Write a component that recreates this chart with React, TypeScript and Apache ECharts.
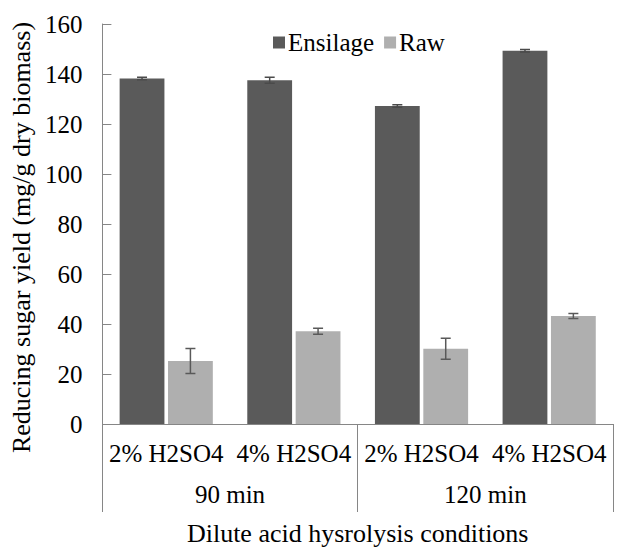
import React, { useEffect, useRef } from "react";
import * as echarts from "echarts";

const categories = ["2% H2SO4", "4% H2SO4", "2% H2SO4", "4% H2SO4"];
const groups = ["90 min", "120 min"];
const ensilage = [138.2, 137.5, 127.2, 149.3];
const ensilageErr = [0.5, 1.2, 0.5, 0.5];
const raw = [25.2, 37.1, 30.1, 43.2];
const rawErr = [5.0, 1.2, 4.2, 1.0];

const FONT = "Liberation Serif";
const CAT_GAP = 0.27;
const BAR_GAP = 0.08;

function errorSeries(name: string, values: number[], errs: number[], side: number, color: string) {
  return {
    type: "custom",
    name,
    xAxisIndex: 0,
    yAxisIndex: 0,
    silent: true,
    z: 10,
    data: values.map((v, i) => [i, v - errs[i], v + errs[i]]),
    renderItem: (params: any, api: any) => {
      const idx = api.value(0);
      const low = api.coord([idx, api.value(1)]);
      const high = api.coord([idx, api.value(2)]);
      const band = api.size([1, 0])[0];
      const barW = (band * (1 - CAT_GAP)) / (2 + BAR_GAP);
      const x = low[0] + side * (barW / 2 + (barW * BAR_GAP) / 2);
      const cap = 5;
      const style = { stroke: color, lineWidth: 1.5 };
      return {
        type: "group",
        children: [
          { type: "line", shape: { x1: x, y1: low[1], x2: x, y2: high[1] }, style },
          { type: "line", shape: { x1: x - cap, y1: low[1], x2: x + cap, y2: low[1] }, style },
          { type: "line", shape: { x1: x - cap, y1: high[1], x2: x + cap, y2: high[1] }, style },
        ],
      };
    },
  };
}

export default function App() {
  const ref = useRef<HTMLDivElement>(null);
  useEffect(() => {
    if (!ref.current) return;
    const chart = echarts.init(ref.current, null, { renderer: "svg" });
    const axisGray = "#868686";
    chart.setOption({
      animation: false,
      backgroundColor: "#ffffff",
      textStyle: { fontFamily: FONT, color: "#000" },
      grid: { left: 97, right: 4, top: 24, bottom: 121, containLabel: false },
      legend: {
        top: 25,
        left: 268,
        itemWidth: 12,
        itemHeight: 12,
        itemGap: 10,
        icon: "rect",
        data: ["Ensilage", "Raw"],
        textStyle: { fontFamily: FONT, fontSize: 25, color: "#000", padding: [0, 0, 0, -2] },
      },
      xAxis: [
        {
          type: "category",
          data: categories,
          position: "bottom",
          axisLine: { show: true, lineStyle: { color: axisGray, width: 1 } },
          axisTick: { show: false },
          axisLabel: { interval: 0, fontFamily: FONT, fontSize: 25, color: "#000", margin: 17 },
          splitLine: { show: false },
        },
        {
          type: "category",
          data: groups,
          position: "bottom",
          axisLine: { show: false },
          axisTick: { show: true, length: 88, lineStyle: { color: axisGray, width: 1 } },
          axisLabel: { interval: 0, fontFamily: FONT, fontSize: 25, color: "#000", margin: 58 },
          splitLine: { show: false },
          name: "Dilute acid hysrolysis conditions",
          nameLocation: "middle",
          nameGap: 96,
          nameTextStyle: { fontFamily: FONT, fontSize: 26, color: "#000" },
        },
      ],
      yAxis: {
        type: "value",
        min: 0,
        max: 160,
        interval: 20,
        axisLine: { show: true, lineStyle: { color: axisGray, width: 1 } },
        axisTick: { show: true, inside: true, length: 9, lineStyle: { color: axisGray } },
        axisLabel: { fontFamily: FONT, fontSize: 25, color: "#000", margin: 20 },
        splitLine: { show: false },
        name: "Reducing sugar yield (mg/g dry biomass)",
        nameLocation: "middle",
        nameGap: 60,
        nameTextStyle: { fontFamily: FONT, fontSize: 26, color: "#000", padding: [0, 27, 0, 0] },
      },
      series: [
        {
          name: "Ensilage",
          type: "bar",
          data: ensilage,
          barCategoryGap: CAT_GAP * 100 + "%",
          barGap: BAR_GAP * 100 + "%",
          itemStyle: { color: "#5a5a5a" },
        },
        {
          name: "Raw",
          type: "bar",
          data: raw,
          barCategoryGap: CAT_GAP * 100 + "%",
          barGap: BAR_GAP * 100 + "%",
          itemStyle: { color: "#afafaf" },
        },
        errorSeries("EnsilageErr", ensilage, ensilageErr, -1, "#4a4a4a"),
        errorSeries("RawErr", raw, rawErr, 1, "#595959"),
      ],
    });
    return () => chart.dispose();
  }, []);
  return (
    <div
      ref={ref}
      style={{ position: "fixed", left: 0, top: 0, width: 617, height: 551, background: "#fff" }}
    />
  );
}
